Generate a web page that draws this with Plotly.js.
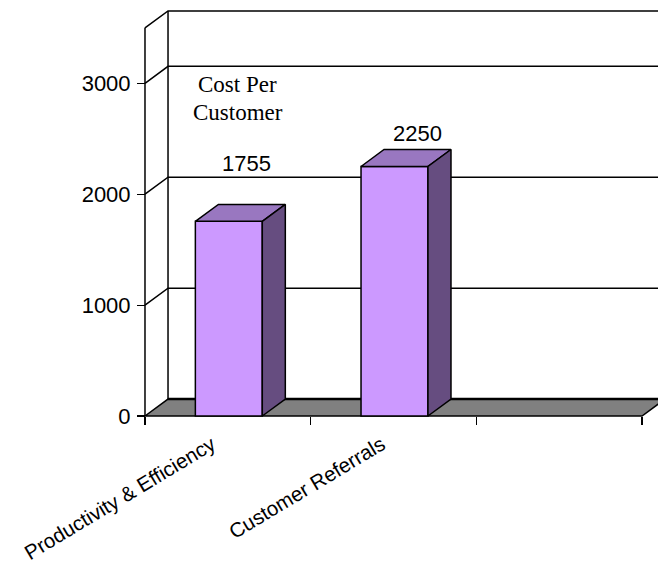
<!DOCTYPE html>
<html>
<head>
<meta charset="utf-8">
<script src="https://cdn.plot.ly/plotly-3.0.1.min.js"></script>
<style>html,body{margin:0;padding:0;background:#fff;overflow:hidden}</style>
</head>
<body>
<div id="chart" style="width:658px;height:566px"></div>
<script>
// Cost per customer by acquisition channel
const categories = ["Productivity & Efficiency", "Customer Referrals"];
const costs = [1755, 2250];
const slotBounds = [-0.5, 0.5, 1.5, 2.5];
const yTicks = [0, 1000, 2000, 3000];
const yMax = 3500;
const slotStart = -0.5;
const slotEnd = 2.5;

// Oblique projection of the depth axis, in axis units
const depthX = 0.139;
const depthY = 153;
const barWidth = 0.404;

// Axis ranges leave a little room around the front edges so their strokes are not clipped
const xRange = [-0.5905, 2.5965];
const barXRange = [-0.5965, 2.5905];
const yRange = [-180.3, 3670];
const xAxisPos = 0.0468;
const yAxisPos = 0.0284;

const ink = "#000000";
const sans = "Liberation Sans, Arial, sans-serif";
const serif = "Liberation Serif, Times New Roman, serif";
const wallLine = { color: ink, width: 1.5 };
const edge = { color: ink, width: 1.5 };

function poly(x, y, fill, line, xaxis) {
  return {
    type: "scatter", mode: "lines", x, y,
    xaxis, yaxis: "y", hoverinfo: "skip", showlegend: false,
    fill: fill ? "toself" : "none", fillcolor: fill || undefined, line
  };
}

const traces = [];

// Grid on the left and back walls
yTicks.concat([yMax]).forEach(v => {
  if (v > 0) {
    traces.push(poly([slotStart, slotStart + depthX, slotEnd + depthX], [v, v + depthY, v + depthY], null, wallLine, "x"));
  }
});
traces.push(poly([slotStart + depthX, slotStart + depthX], [depthY, yMax + depthY], null, wallLine, "x"));
traces.push(poly([slotStart, slotStart], [0, yMax], null, wallLine, "x"));

// Floor
traces.push(poly(
  [slotStart, slotEnd, slotEnd + depthX, slotStart + depthX, slotStart],
  [0, 0, depthY, depthY, 0], "#808080", { color: ink, width: 1.5 }, "x"));
traces.push(poly([slotStart + depthX, slotEnd + depthX], [depthY, depthY], null, { color: ink, width: 2.5 }, "x"));

// Bars with their top and side faces
traces.push({
  type: "bar", x: [0, 1], y: costs, width: barWidth, xaxis: "x2", yaxis: "y",
  marker: { color: "#cc99ff", line: { color: ink, width: 1.5 } },
  hoverinfo: "skip", showlegend: false
});
costs.forEach((v, i) => {
  const l = i - barWidth / 2, r = i + barWidth / 2;
  traces.push(poly([l, r, r + depthX, l + depthX, l], [v, v, v + depthY, v + depthY, v], "#9977c0", edge, "x2"));
  traces.push(poly([r, r + depthX, r + depthX, r, r], [0, depthY, v + depthY, v, 0], "#664d80", edge, "x2"));
});

// Value labels, each placed by hand above its bar
const labelShiftX = [0.105, 0.136];
const labelLift = [373, 140];
const annotations = costs.map((v, i) => ({
  x: i + labelShiftX[i], y: v + depthY + labelLift[i], xref: "x2", yref: "y",
  text: String(v), showarrow: false, xanchor: "center", yanchor: "middle",
  font: { family: sans, size: 22, color: ink }
}));

// Chart caption, one annotation per line for tight leading
const captionLines = ["Cost Per", "Customer"];
const captionY = [2985, 2741];
captionLines.forEach((t, i) => annotations.push({
  x: 0.055, y: captionY[i], xref: "x2", yref: "y",
  text: t, showarrow: false, xanchor: "center", yanchor: "middle",
  font: { family: serif, size: 23, color: ink }
}));

const layout = {
  width: 658, height: 566,
  margin: { l: 130, r: 0, t: 9, b: 130, pad: 0 },
  paper_bgcolor: "#fff", plot_bgcolor: "rgba(0,0,0,0)",
  font: { family: sans, size: 22, color: ink },
  showlegend: false, bargap: 0,
  xaxis: {
    type: "linear", range: xRange, anchor: "free", position: xAxisPos,
    tickmode: "array", tickvals: slotBounds,
    showticklabels: false, ticks: "outside", ticklen: 8, tickwidth: 1.2, tickcolor: ink,
    showgrid: false, zeroline: false, showline: false
  },
  xaxis2: {
    type: "linear", range: barXRange, overlaying: "x", anchor: "free", position: xAxisPos, side: "bottom",
    tickmode: "array", tickvals: [-0.012, 1.012], ticktext: categories, tickangle: -31,
    ticks: "", showgrid: false, zeroline: false, showline: false,
    ticklabelshift: -15, ticklabelstandoff: 12,
    tickfont: { family: sans, size: 20.5, color: ink }
  },
  yaxis: {
    range: yRange, anchor: "free", position: yAxisPos,
    tickmode: "array", tickvals: yTicks, ticks: "outside", ticklen: 8,
    tickwidth: 1.2, tickcolor: ink, showgrid: false, zeroline: false, showline: false,
    ticklabelstandoff: 2,
    tickfont: { family: sans, size: 22, color: ink }
  },
  annotations
};

Plotly.newPlot("chart", traces, layout, { displayModeBar: false, staticPlot: true });
</script>
</body>
</html>
